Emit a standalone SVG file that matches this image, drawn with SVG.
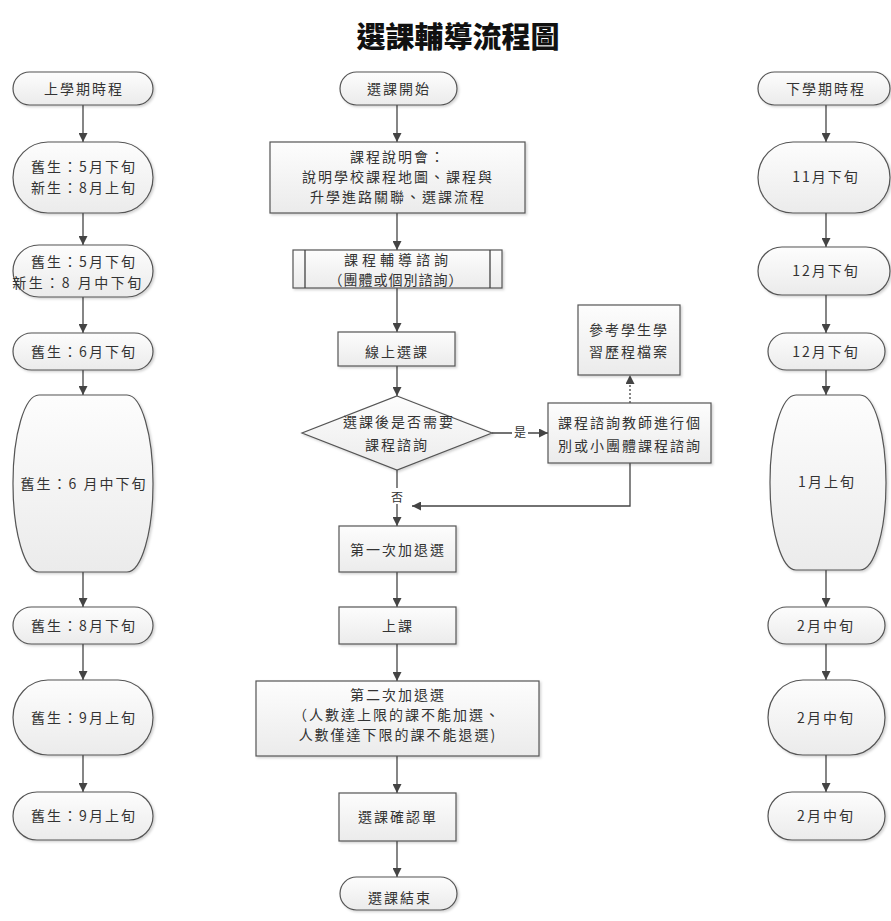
<svg xmlns="http://www.w3.org/2000/svg" width="891" height="921" viewBox="0 0 891 921">
<style>
.n{fill:url(#g);stroke:#555;stroke-width:1.2;filter:url(#sh)}
.t{font-family:"Noto Sans CJK TC","Noto Sans CJK SC",sans-serif;font-size:14px;fill:#333;text-anchor:middle;letter-spacing:2px}
.c{fill:none;stroke:#444;stroke-width:1.3}
.a{fill:none;stroke:#444;stroke-width:1.3;marker-end:url(#ah)}
.lb{font-family:"Noto Sans CJK TC",sans-serif;font-size:12px;fill:#333;text-anchor:middle}
</style>
<defs>
<linearGradient id="g" x1="0" y1="0" x2="0" y2="1"><stop offset="0" stop-color="#fdfdfd"/><stop offset="1" stop-color="#ebebeb"/></linearGradient>
<filter id="sh" x="-10%" y="-10%" width="125%" height="130%"><feDropShadow dx="1.5" dy="1.5" stdDeviation="1" flood-color="#000" flood-opacity="0.18"/></filter>
<marker id="ah" viewBox="0 0 10 10" refX="10" refY="5" markerWidth="9" markerHeight="9" markerUnits="userSpaceOnUse" orient="auto"><path d="M0,0 L10,5 L0,10 z" fill="#444"/></marker>
</defs>
<rect width="891" height="921" fill="#fff"/>
<text x="458" y="48" font-family="'Noto Sans CJK TC','Noto Sans CJK SC',sans-serif" font-size="29" font-weight="900" fill="#111" text-anchor="middle">選課輔導流程圖</text>

<g id="connectors">
<path class="a" d="M83,105 V142"/>
<path class="a" d="M83,213 V245"/>
<path class="a" d="M83,297 V333"/>
<path class="a" d="M83,370 V395"/>
<path class="a" d="M83,572 V607"/>
<path class="a" d="M83,644 V680"/>
<path class="a" d="M83,755 V792"/>
<path class="a" d="M397,105 V142"/>
<path class="a" d="M397,213 V250"/>
<path class="a" d="M397,288 V332"/>
<path class="a" d="M397,366 V396"/>
<path class="a" d="M397,470 V526"/>
<path class="a" d="M397,572 V607"/>
<path class="a" d="M397,644 V681"/>
<path class="a" d="M397,756 V793"/>
<path class="a" d="M397,841 V877"/>
<path class="a" d="M492,433 H548"/>
<path class="a" d="M630,403 V375" stroke-dasharray="2,2"/>
<path class="a" d="M630,463 V506 H412"/>
<path class="a" d="M826,105 V142"/>
<path class="a" d="M826,213 V247"/>
<path class="a" d="M826,295 V333"/>
<path class="a" d="M826,370 V395"/>
<path class="a" d="M826,570 V607"/>
<path class="a" d="M826,644 V680"/>
<path class="a" d="M826,755 V792"/>
<rect x="512" y="425" width="16" height="14" fill="#fff"/>
<text class="lb" x="520" y="437">是</text>
<rect x="389" y="488" width="16" height="16" fill="#fff"/>
<text class="lb" x="397" y="502">否</text>
</g>

<g id="L1"><rect class="n" x="13" y="72" width="140" height="33" rx="16.5"/><text class="t" x="84" y="94">上學期時程</text></g>
<g id="L2"><rect class="n" x="13" y="142" width="140" height="71" rx="35" ry="35.5"/><text class="t" x="84" y="172">舊生：5月下旬</text><text class="t" x="84" y="193">新生：8月上旬</text></g>
<g id="L3"><rect class="n" x="13" y="245" width="140" height="52" rx="26"/><text class="t" x="84" y="267">舊生：5月下旬</text><text class="t" x="78" y="288" style="letter-spacing:2.5px">新生：8 月中下旬</text></g>
<g id="L4"><rect class="n" x="13" y="333" width="140" height="37" rx="18.5"/><text class="t" x="84" y="357">舊生：6月下旬</text></g>
<g id="L5"><rect class="n" x="13" y="395" width="140" height="177" rx="26" ry="88"/><text class="t" x="84" y="489">舊生：6 月中下旬</text></g>
<g id="L6"><rect class="n" x="13" y="607" width="140" height="37" rx="18.5"/><text class="t" x="84" y="631">舊生：8月下旬</text></g>
<g id="L7"><rect class="n" x="13" y="680" width="140" height="75" rx="35" ry="37.5"/><text class="t" x="84" y="723">舊生：9月上旬</text></g>
<g id="L8"><rect class="n" x="13" y="792" width="140" height="48" rx="24"/><text class="t" x="84" y="821">舊生：9月上旬</text></g>

<g id="M1"><rect class="n" x="340" y="72" width="117" height="33" rx="16.5"/><text class="t" x="399" y="94">選課開始</text></g>
<g id="M2"><rect class="n" x="270" y="142" width="255" height="71"/><text class="t" x="398" y="162">課程說明會：</text><text class="t" x="398" y="182">說明學校課程地圖、課程與</text><text class="t" x="398" y="202">升學進路關聯、選課流程</text></g>
<g id="M3"><rect class="n" x="293" y="250" width="209" height="38"/><path class="c" d="M305,250 V288 M490,250 V288" stroke="#555"/><text class="t" x="398" y="265" style="letter-spacing:4px">課程輔導諮詢</text><text class="t" x="396" y="285" style="letter-spacing:1px">（團體或個別諮詢）</text></g>
<g id="M4"><rect class="n" x="338" y="332" width="117" height="34"/><text class="t" x="397" y="357">線上選課</text></g>
<g id="M5"><polygon class="n" points="397,396 492,433 397,470 302,433"/><text class="t" x="399" y="427">選課後是否需要</text><text class="t" x="397" y="450">課程諮詢</text></g>
<g id="M6"><rect class="n" x="548" y="403" width="163" height="60"/><text class="t" x="630" y="428">課程諮詢教師進行個</text><text class="t" x="630" y="451">別或小團體課程諮詢</text></g>
<g id="M7"><rect class="n" x="578" y="305" width="102" height="70"/><text class="t" x="629" y="335">參考學生學</text><text class="t" x="629" y="357">習歷程檔案</text></g>
<g id="M8"><rect class="n" x="339" y="526" width="117" height="46"/><text class="t" x="398" y="555">第一次加退選</text></g>
<g id="M9"><rect class="n" x="339" y="607" width="117" height="37"/><text class="t" x="398" y="631">上課</text></g>
<g id="M10"><rect class="n" x="256" y="681" width="283" height="75"/><text class="t" x="398" y="700">第二次加退選</text><text class="t" x="397" y="720">（人數達上限的課不能加選、</text><text class="t" x="398" y="740">人數僅達下限的課不能退選)</text></g>
<g id="M11"><rect class="n" x="339" y="793" width="117" height="48"/><text class="t" x="398" y="822">選課確認單</text></g>
<g id="M12"><rect class="n" x="340" y="877" width="117" height="33" rx="16.5"/><text class="t" x="400" y="903">選課結束</text></g>

<g id="R1"><rect class="n" x="758" y="72" width="132" height="33" rx="16.5"/><text class="t" x="826" y="94">下學期時程</text></g>
<g id="R2"><rect class="n" x="758" y="142" width="132" height="71" rx="35" ry="35.5"/><text class="t" x="826" y="182">11月下旬</text></g>
<g id="R3"><rect class="n" x="758" y="247" width="132" height="48" rx="24"/><text class="t" x="826" y="276">12月下旬</text></g>
<g id="R4"><rect class="n" x="768" y="333" width="117" height="37" rx="18.5"/><text class="t" x="826" y="357">12月下旬</text></g>
<g id="R5"><rect class="n" x="770" y="395" width="116" height="175" rx="26" ry="87"/><text class="t" x="827" y="487">1月上旬</text></g>
<g id="R6"><rect class="n" x="768" y="607" width="117" height="37" rx="18.5"/><text class="t" x="826" y="631">2月中旬</text></g>
<g id="R7"><rect class="n" x="768" y="680" width="117" height="75" rx="35" ry="37.5"/><text class="t" x="826" y="723">2月中旬</text></g>
<g id="R8"><rect class="n" x="768" y="792" width="117" height="48" rx="24"/><text class="t" x="826" y="821">2月中旬</text></g>
</svg>
